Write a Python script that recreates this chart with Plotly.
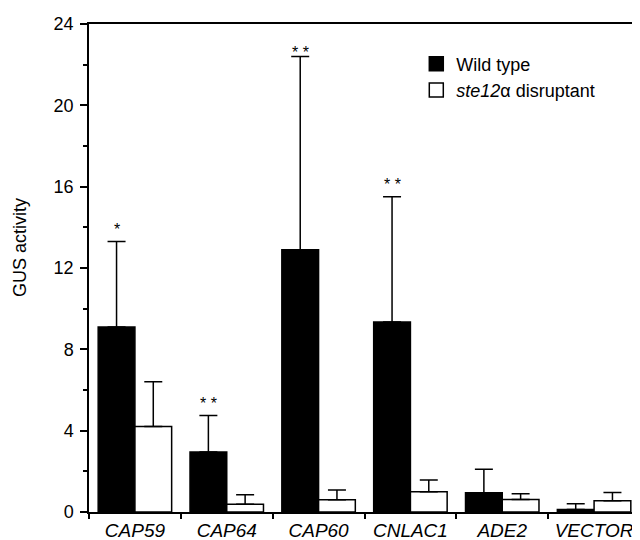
import plotly.graph_objects as go

categories = ["CAP59", "CAP64", "CAP60", "CNLAC1", "ADE2", "VECTOR"]
wild_type = [9.1, 2.95, 12.9, 9.35, 0.95, 0.12]
wild_type_err = [4.2, 1.8, 9.5, 6.15, 1.15, 0.28]
disruptant = [4.2, 0.38, 0.6, 1.0, 0.62, 0.55]
disruptant_err = [2.2, 0.47, 0.48, 0.57, 0.28, 0.41]
significance = ["*", "* *", "* *", "* *", "", ""]
series_names = ["Wild type", "<i>ste12</i>\u03b1 disruptant"]

FONT = "Liberation Sans, Arial, Helvetica, sans-serif"

fig = go.Figure()
fig.add_trace(go.Bar(
    x=categories, y=wild_type, name=series_names[0], showlegend=False,
    marker=dict(color="black", line=dict(color="black", width=1.5)),
    error_y=dict(type="data", symmetric=False, array=wild_type_err,
                 arrayminus=[0] * len(wild_type_err),
                 color="black", thickness=1.5, width=9),
))
fig.add_trace(go.Bar(
    x=categories, y=disruptant, name=series_names[1], showlegend=False,
    marker=dict(color="white", line=dict(color="black", width=1.5)),
    error_y=dict(type="data", symmetric=False, array=disruptant_err,
                 arrayminus=[0] * len(disruptant_err),
                 color="black", thickness=1.5, width=9),
))
# legend entries with larger square keys
for name, col in zip(series_names, ["black", "white"]):
    fig.add_trace(go.Scatter(
        x=[None], y=[None], mode="markers", name=name,
        marker=dict(symbol="square", size=14, color=col,
                    line=dict(color="black", width=1.5)),
    ))

star_shift = [15, 15, 7, 15, 0, 0]
for i, s in enumerate(significance):
    if s:
        fig.add_annotation(
            x=i - 0.2, y=wild_type[i] + wild_type_err[i], xref="x", yref="y",
            text=s, showarrow=False, yanchor="middle", yshift=star_shift[i] - 3,
            font=dict(size=16, color="black", family=FONT),
        )

fig.add_annotation(
    text="GUS activity", textangle=-90, showarrow=False,
    xref="paper", yref="paper", x=-0.125, y=0.541,
    xanchor="center", yanchor="middle",
    font=dict(size=18, color="black", family=FONT),
)

fig.update_layout(
    width=640, height=540,
    margin=dict(l=81, r=6, t=7, b=36),
    paper_bgcolor="white", plot_bgcolor="white",
    barmode="group", bargap=0.2, bargroupgap=0,
    font=dict(family=FONT, color="black"),
    showlegend=True,
    legend=dict(x=0.594, y=0.956, xanchor="left", yanchor="top",
                bgcolor="rgba(0,0,0,0)", font=dict(size=18, color="black"),
                tracegroupgap=0, itemwidth=30),
    xaxis=dict(
        type="category", categoryorder="array", categoryarray=categories,
        showline=True, linecolor="black", linewidth=1.5,
        mirror=True, ticks="outside", tickson="boundaries", ticklen=5,
        tickwidth=1.5, tickcolor="black",
        tickfont=dict(size=19, style="italic", color="black", family=FONT),
        showgrid=False, zeroline=False,
    ),
    yaxis=dict(
        range=[0, 24], dtick=4, tick0=0, showline=True, linecolor="black",
        linewidth=1.5, mirror=True, ticks="outside", ticklen=7, tickwidth=1.5,
        tickcolor="black", tickfont=dict(size=18, color="black", family=FONT),
        ticklabeloverflow="allow", ticklabelstandoff=3,
        minor=dict(dtick=2, ticks="outside", ticklen=4, tickwidth=1.5,
                   tickcolor="black", showgrid=False),
        showgrid=False, zeroline=False,
    ),
)

fig.write_html("out.html")
